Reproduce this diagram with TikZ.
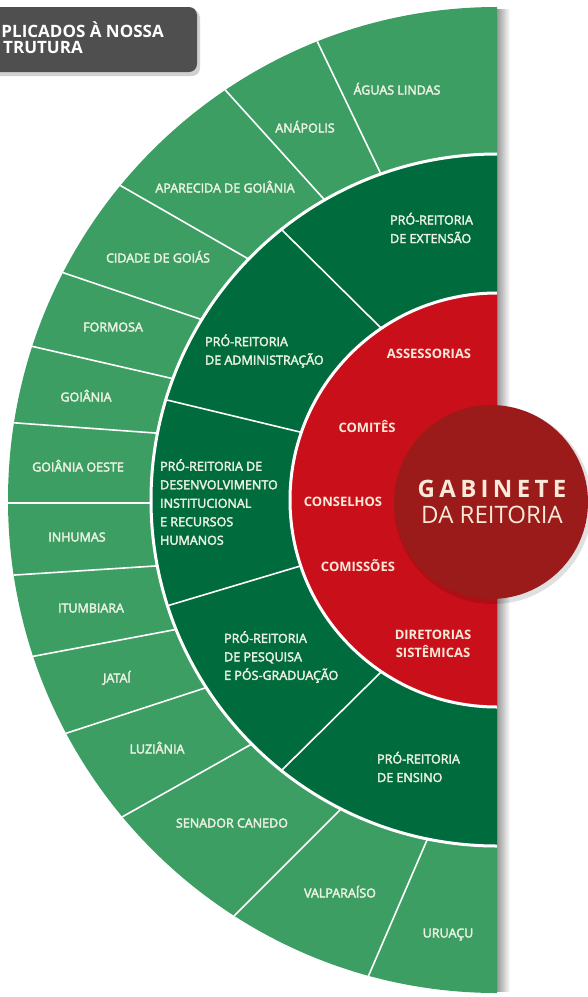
\documentclass[tikz,border=0pt]{standalone}
\usepackage{fontspec}
\setmainfont{Open Sans}
\newfontfamily\ringfont[FakeBold=3]{Open Sans}
\usetikzlibrary{calc}
\definecolor{campusgreen}{HTML}{3D9E63}
\definecolor{proreitgreen}{HTML}{006B3C}
\definecolor{orgaored}{HTML}{C9101A}
\definecolor{gabinetered}{HTML}{9B1B1A}
\definecolor{tabgrey}{HTML}{4F4F4F}
\definecolor{ringtext}{HTML}{EAF1E1}
\definecolor{redtext}{HTML}{FAE9D8}
\tikzset{
  % the rings are measured in pixels of the original chart, y downwards
  campus/.style  = {text=ringtext, font=\ringfont\fontsize{12.5}{15}\selectfont,
                    inner sep=0pt, text height=9pt, text depth=0pt},
  proreit/.style = {text=ringtext, font=\ringfont\fontsize{12.5}{18.5}\selectfont,
                    align=left, anchor=west, inner sep=0pt},
  orgao/.style   = {text=redtext, font=\bfseries\fontsize{13}{18}\selectfont,
                    align=center, inner sep=0pt},
  divider/.style = {white, line width=1.6pt},
  ringedge/.style= {draw=white, line width=3pt},
}

\begin{document}
\begin{tikzpicture}[x=1pt, y=-1pt]
    \useasboundingbox (0,0) rectangle (588,997);
    \clip (0,0) rectangle (588,997);
    \coordinate (C) at (497,500);

    % title tab, cut off by the page edge
    \fill[black!18, rounded corners=8pt] (-12,10) rectangle (200,76);
    \fill[tabgrey, rounded corners=8pt] (-12,7) rectangle (197,72);
    \node[white, font=\bfseries\fontsize{17}{17}\selectfont, inner sep=0pt,
          anchor=base east] (tab1) at (164,37) {PLICADOS À NOSSA};
    \node[white, font=\bfseries\fontsize{17}{17}\selectfont, inner sep=0pt,
          anchor=base east] (tab2) at (83,53) {TRUTURA};

    % soft shadow along the straight edge
    \shade[left color=black!40, right color=white] (497,9) rectangle (510,991);

    \begin{scope}
        \clip (0,0) rectangle (497,997);
        \clip (C) ellipse [x radius=489pt, y radius=493pt];
        \fill[campusgreen] (C) circle (500pt);
        \foreach \xo/\yo/\xi/\yi in {318/43/379/170, 228/93/322/197,
                 123/187/245/257, 67/274/197/318, 35/347/170/378,
                 17/423/155/433, 10/503/150/503, 15/575/155/566,
                 35/656/173/630, 67/733/205/688, 122/817/250/745,
                 233/917/340/810, 368/977/427/840}
            \draw[divider] ($(\xi,\yi)!1.15!(\xo,\yo)$) -- ($(\xo,\yo)!1.15!(\xi,\yi)$);

        \path[fill=proreitgreen, ringedge] (C) circle (346pt);
        \begin{scope}
            \clip (C) circle (344.5pt);
            \foreach \xo/\yo/\xi/\yi in {282/230/380/327, 167/400/300/432,
                     170/605/297/567, 285/767/378/675}
                \draw[divider] ($(\xi,\yi)!1.15!(\xo,\yo)$) -- ($(\xo,\yo)!1.15!(\xi,\yi)$);
        \end{scope}

        \path[fill=orgaored, ringedge] (C) circle (207pt);
    \end{scope}

    \fill[black, opacity=0.12] (493,505) circle (99pt);
    \node[circle, fill=gabinetered, minimum size=194pt, inner sep=0pt] (gabinete) at (491,502) {};
    \node[text=redtext, inner sep=0pt, text height=17pt, text depth=0pt,
          font=\bfseries\fontsize{24}{24}\selectfont\addfontfeature{LetterSpace=18}]
          (gab1) at (492,488.5) {GABINETE};
    \node[text=redtext, inner sep=0pt, text height=17pt, text depth=0pt,
          font=\fontsize{24}{24}\selectfont] (gab2) at (492,514.5) {DA REITORIA};

    \node[campus] (aguas)      at (397,90)  {ÁGUAS LINDAS};
    \node[campus] (anapolis)   at (305,128) {ANÁPOLIS};
    \node[campus] (aparecida)  at (225,188) {APARECIDA DE GOIÂNIA};
    \node[campus] (cidade)     at (158,258) {CIDADE DE GOIÁS};
    \node[campus] (formosa)    at (113,327) {FORMOSA};
    \node[campus] (goiania)    at (86,397)  {GOIÂNIA};
    \node[campus] (oeste)      at (78,467)  {GOIÂNIA OESTE};
    \node[campus] (inhumas)    at (77,537)  {INHUMAS};
    \node[campus] (itumbiara)  at (91,608)  {ITUMBIARA};
    \node[campus] (jatai)      at (117,678) {JATAÍ};
    \node[campus] (luziania)   at (157,749) {LUZIÂNIA};
    \node[campus] (senador)    at (232,823) {SENADOR CANEDO};
    \node[campus] (valparaiso) at (340,893) {VALPARAÍSO};
    \node[campus] (uruacu)     at (448,933) {URUAÇU};

    \node[proreit] (extensao)        at (390,228) {PRÓ-REITORIA\\DE EXTENSÃO};
    \node[proreit] (administracao)   at (205,351) {PRÓ-REITORIA\\DE ADMINISTRAÇÃO};
    \node[proreit] (desenvolvimento) at (160,502) {PRÓ-REITORIA DE\\DESENVOLVIMENTO\\INSTITUCIONAL\\E RECURSOS\\HUMANOS};
    \node[proreit] (pesquisa)        at (224,657) {PRÓ-REITORIA\\DE PESQUISA\\E PÓS-GRADUAÇÃO};
    \node[proreit] (ensino)          at (377,767) {PRÓ-REITORIA\\DE ENSINO};

    \node[orgao] (assessorias) at (429,354) {ASSESSORIAS};
    \node[orgao] (comites)     at (367,427) {COMITÊS};
    \node[orgao] (conselhos)   at (343,502) {CONSELHOS};
    \node[orgao] (comissoes)   at (358,566) {COMISSÕES};
    \node[orgao] (diretorias)  at (433,644) {DIRETORIAS\\SISTÊMICAS};
\end{tikzpicture}
\end{document}
